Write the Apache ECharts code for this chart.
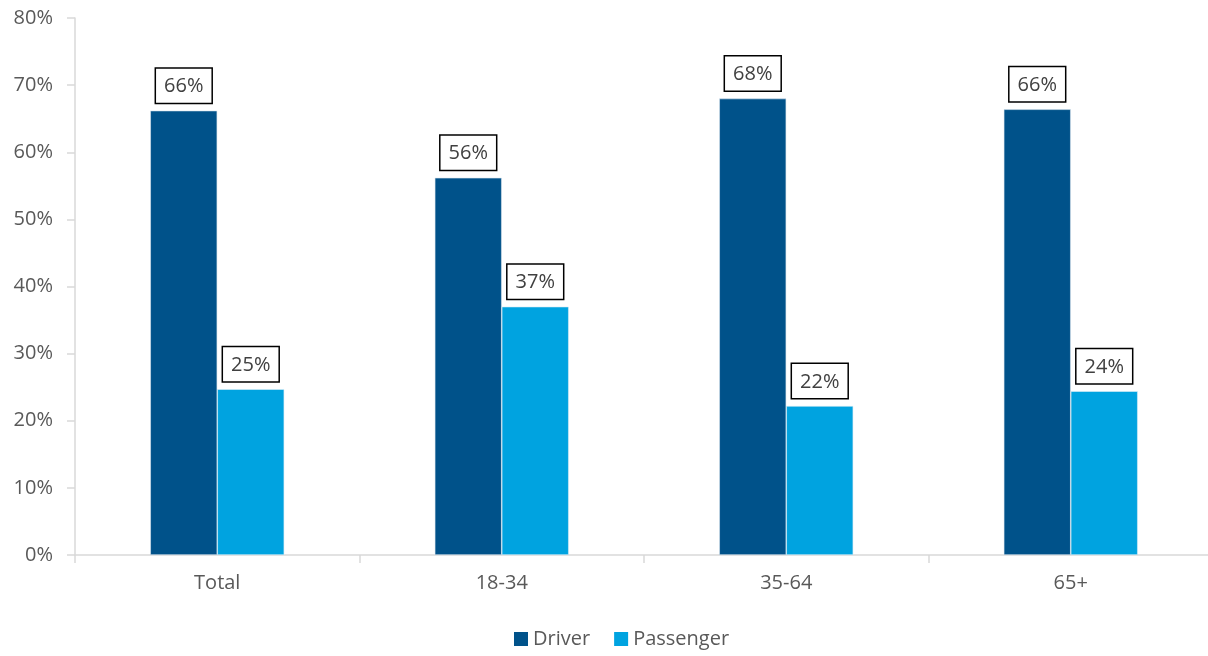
<!DOCTYPE html>
<html>
<head>
<meta charset="utf-8">
<script src="https://cdn.jsdelivr.net/npm/echarts@6/dist/echarts.min.js"></script>
<style>html,body{margin:0;padding:0;background:#fff;overflow:hidden;}#c{width:1216px;height:656px;}</style>
</head>
<body>
<div id="c"></div>
<script>
const categories = ['Total', '18-34', '35-64', '65+'];
const driver = [66.2, 56.2, 68.0, 66.4];
const passenger = [24.7, 37.0, 22.2, 24.4];
const yTicks = [0, 10, 20, 30, 40, 50, 60, 70, 80];

const FONT = '"Open Sans", "Noto Sans", sans-serif';
const chart = echarts.init(document.getElementById('c'), null, {renderer: 'canvas'});
const labelCfg = {
  show: true,
  position: 'top',
  distance: 8,
  formatter: p => Math.round(p.value) + '%',
  color: '#404040',
  fontFamily: FONT,
  fontSize: 20,
  backgroundColor: '#fff',
  borderColor: '#000',
  borderWidth: 1.5,
  padding: [8, 8, 6, 8]
};
chart.setOption({
  animation: false,
  textStyle: {fontFamily: FONT},
  grid: {left: 75, top: 18, width: 1138, height: 537, containLabel: false},
  legend: {
    data: ['Driver', 'Passenger'],
    bottom: 2,
    left: 509,
    itemWidth: 14,
    itemHeight: 14,
    itemGap: 24,
    icon: 'rect',
    itemStyle: {borderWidth: 0},
    textStyle: {color: '#595959', fontSize: 20, fontFamily: FONT}
  },
  xAxis: {
    type: 'category',
    data: categories,
    axisLine: {lineStyle: {color: '#D9D9D9', width: 1.5}},
    axisTick: {show: true, length: 8, lineStyle: {color: '#D9D9D9', width: 1.5}},
    axisLabel: {color: '#595959', fontSize: 20, margin: 18, fontFamily: FONT}
  },
  yAxis: {
    type: 'value',
    min: yTicks[0],
    max: yTicks[yTicks.length - 1],
    interval: 10,
    splitLine: {show: false},
    axisLine: {show: true, lineStyle: {color: '#D9D9D9', width: 1.5}},
    axisTick: {show: true, length: 8, lineStyle: {color: '#D9D9D9', width: 1.5}},
    axisLabel: {color: '#595959', fontSize: 20, margin: 22, fontFamily: FONT, formatter: v => v + '%'}
  },
  series: [
    {
      name: 'Driver', type: 'bar', data: driver, barWidth: 67, barGap: '0%',
      itemStyle: {color: '#00528A', borderColor: '#dbe6ef', borderWidth: 0.6},
      label: labelCfg
    },
    {
      name: 'Passenger', type: 'bar', data: passenger, barWidth: 67,
      itemStyle: {color: '#00A3E0', borderColor: '#dbeef7', borderWidth: 0.6},
      label: labelCfg
    }
  ]
});
</script>
</body>
</html>
